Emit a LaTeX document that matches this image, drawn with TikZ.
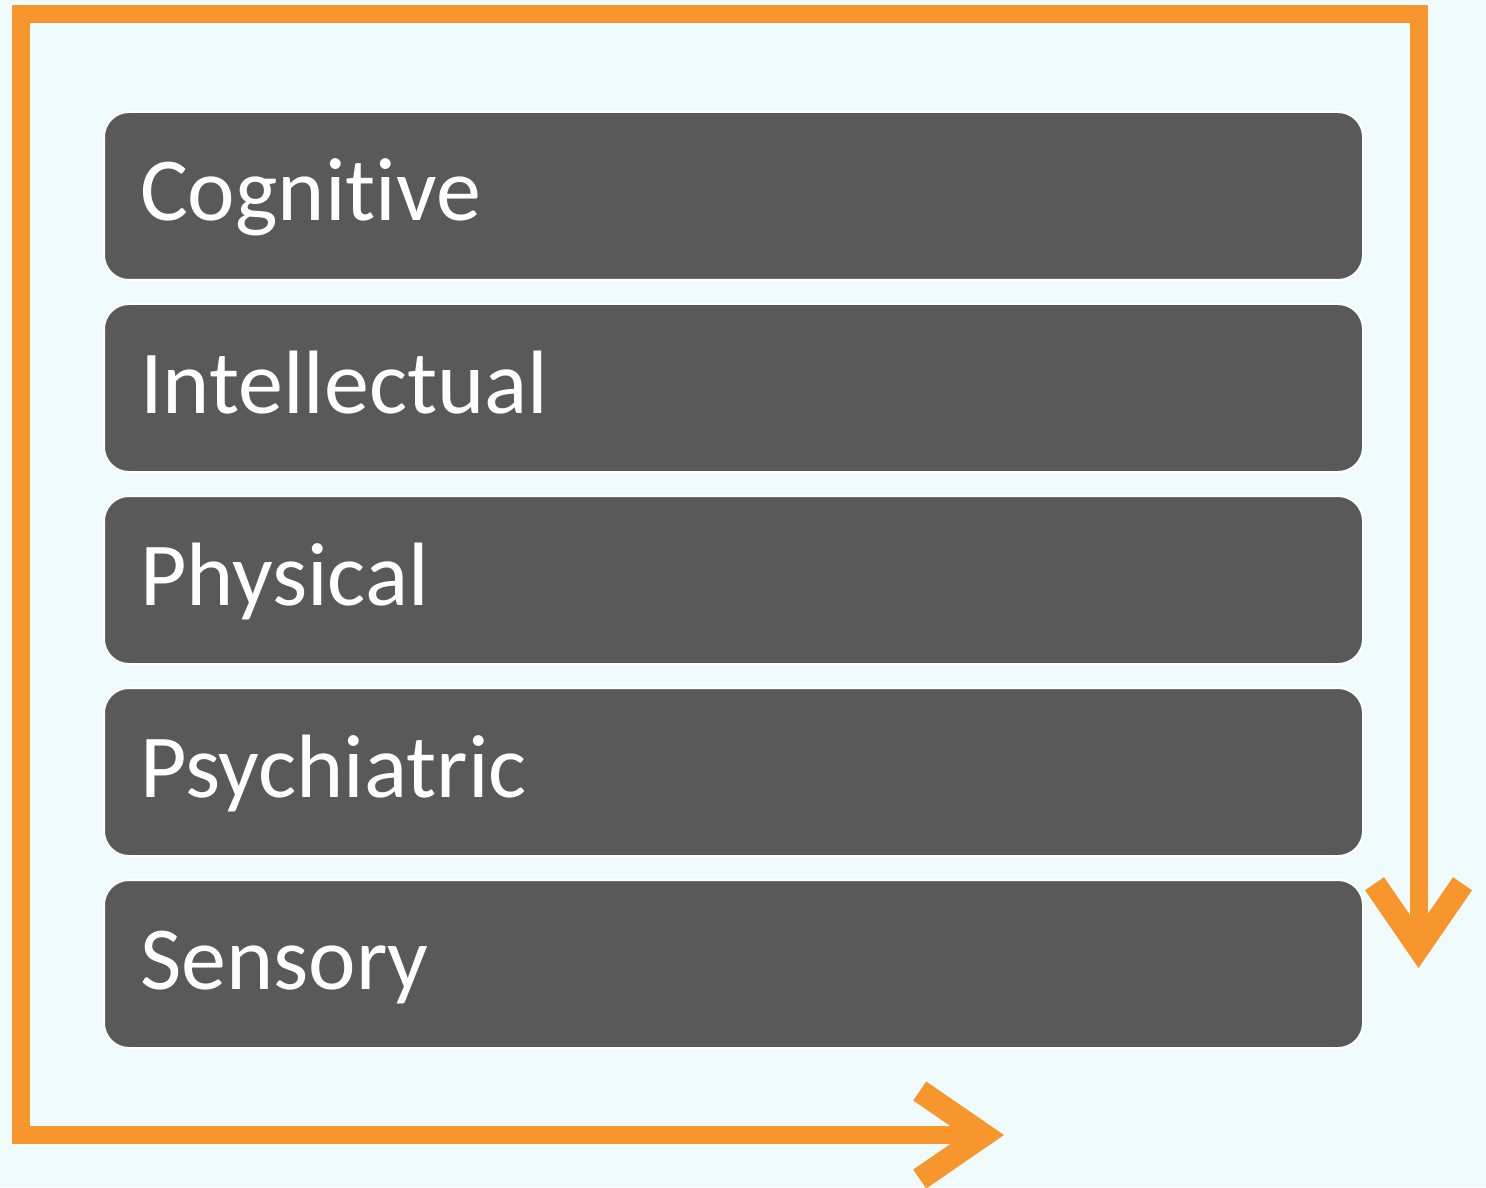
\documentclass[tikz,border=0pt]{standalone}
\usepackage{fontspec}
\setmainfont{Carlito}[Ligatures=NoCommon]
\usetikzlibrary{arrows.meta}

\definecolor{bgcyan}{HTML}{EFFBFC}
\definecolor{flowor}{HTML}{F8962E}
\definecolor{boxgray}{HTML}{595959}

\begin{document}
\begin{tikzpicture}[x=0.5pt, y=-0.5pt,
    catbox/.style={draw=white, line width=1pt, fill=boxgray, rounded corners=12.5pt,
      minimum width=629.5pt, minimum height=84pt, inner xsep=18pt, inner ysep=0pt,
      text width=593.5pt, align=left, text height=35pt, text depth=10pt,
      text=white, font=\fontsize{45}{45}\selectfont},
    flowtip/.tip={Straight Barb[sharp, length=32pt, width=44pt, line width=2.5pt 1]},
    flow/.style={draw=flowor, line width=9pt, line join=miter, {flowtip}-{flowtip}}]
  \fill[bgcyan] (0,0) rectangle (1486,1187);
  \useasboundingbox (0,0) rectangle (1486,1187);

  \node[catbox] (COG) at (733.5,196) {Cognitive};
  \node[catbox] (INT) at (733.5,388) {Intellectual};
  \node[catbox] (PHY) at (733.5,580) {Physical};
  \node[catbox] (PSY) at (733.5,772) {Psychiatric};
  \node[catbox] (SEN) at (733.5,964) {Sensory};

  \coordinate (TL) at (21,14);
  \coordinate (TR) at (1418.5,14);
  \coordinate (BL) at (21,1135);
  \coordinate (DOWN) at (1418.5,968);
  \coordinate (RIGHT) at (1004,1135);

  \draw[flow] (RIGHT) -- (BL) -- (TL) -- (TR) -- (DOWN);
\end{tikzpicture}
\end{document}
